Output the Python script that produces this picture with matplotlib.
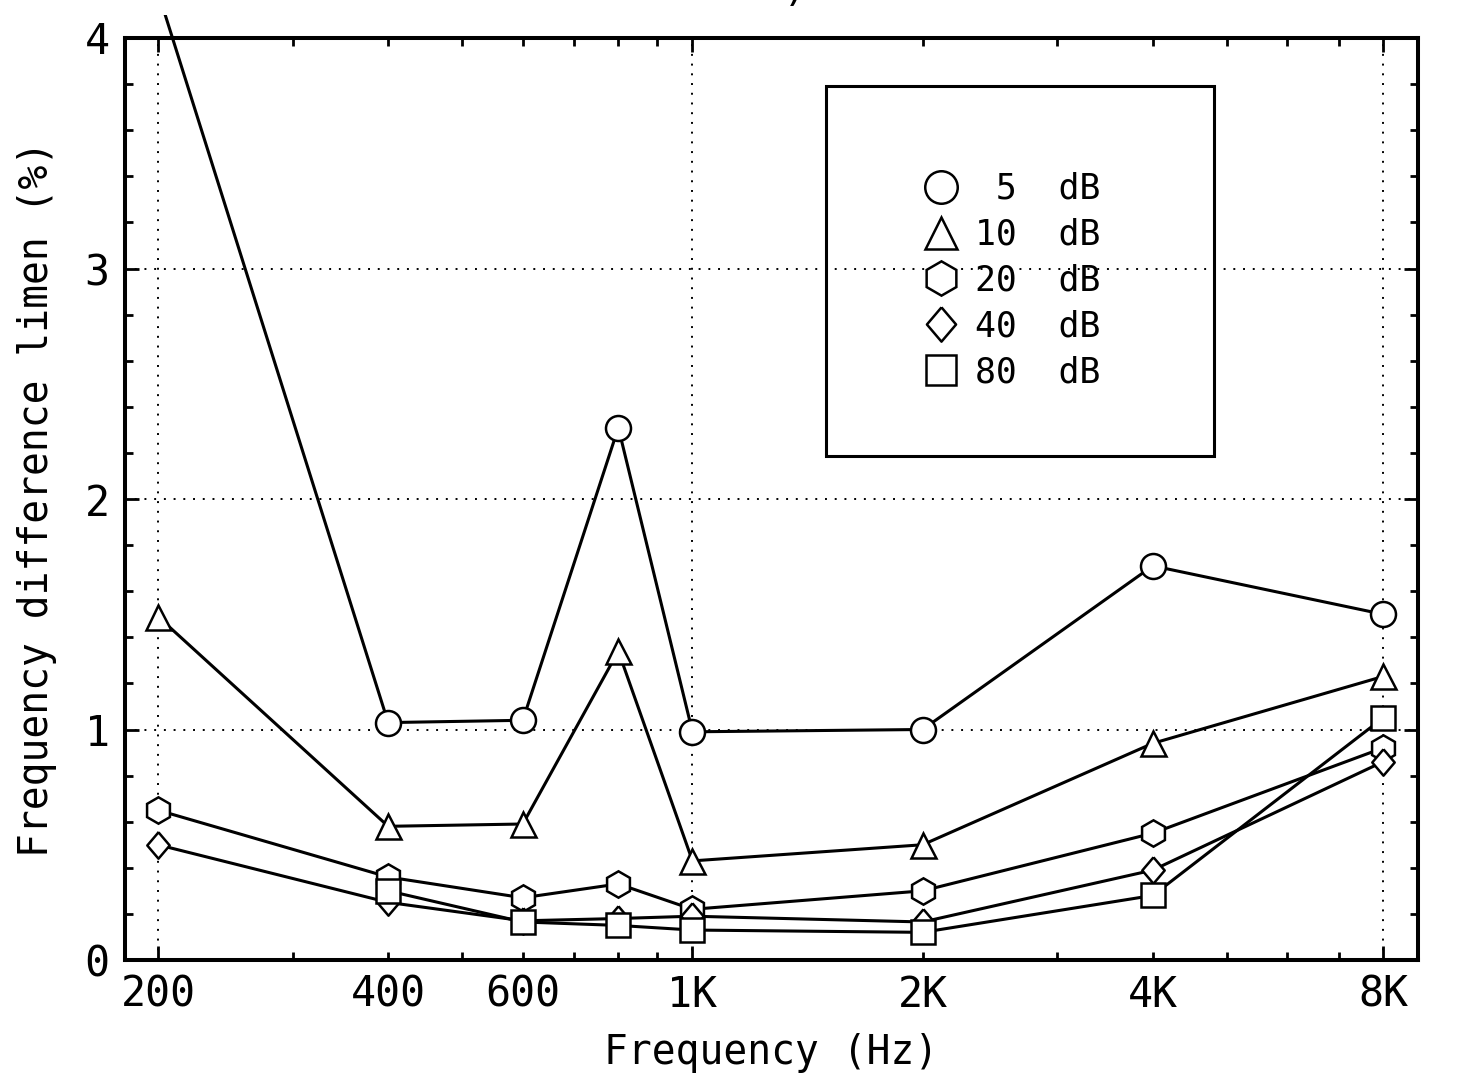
import numpy as np
import matplotlib
matplotlib.use('Agg')
import matplotlib.pyplot as plt
from matplotlib.patches import Rectangle
from matplotlib.ticker import FixedLocator, FixedFormatter, MultipleLocator

# frequency difference limen (%) vs frequency, one series per level
freqs = [200, 400, 600, 800, 1000, 2000, 4000, 8000]
dl_5db = [4.2, 1.03, 1.04, 2.31, 0.99, 1.00, 1.71, 1.50]
dl_10db = [1.49, 0.58, 0.59, 1.34, 0.43, 0.50, 0.94, 1.23]
dl_20db = [0.65, 0.36, 0.27, 0.33, 0.22, 0.30, 0.55, 0.92]
dl_40db = [0.50, 0.25, 0.17, 0.18, 0.19, 0.165, 0.39, 0.86]
dl_80db = [np.nan, 0.30, 0.165, 0.15, 0.13, 0.12, 0.28, 1.05]

level_labels = ['\u00a05  dB', '10  dB', '20  dB', '40  dB', '80  dB']

major_x = [200, 1000, 8000]
major_x_labels = ['200', '1K', '8K']
minor_x = [300, 400, 500, 600, 700, 800, 900, 2000, 3000, 4000, 5000, 6000, 7000]
minor_x_labels = ['', '400', '', '600', '', '', '', '2K', '', '4K', '', '', '']

plt.rcParams['font.family'] = 'DejaVu Sans Mono'

fig = plt.figure(figsize=(14.58, 10.84), dpi=100)
ax = fig.add_axes([125/1458, 124/1084, 1293/1458, 922/1084])

# diamond a little taller than wide
diamond = [(0, 1), (0.85, 0), (0, -1), (-0.85, 0), (0, 1)]
series = [dl_5db, dl_10db, dl_20db, dl_40db, dl_80db]
markers = ['o', '^', 'h', diamond, 's']
msizes = [18, 18, 19, 19, 17]

# the 5 dB line runs a bit past the top of the frame
clip = Rectangle((0, 0), 1, 1.025, transform=ax.transAxes, visible=False)
ax.add_patch(clip)

handles = []
for i in range(len(series)):
    ln, = ax.plot(freqs, series[i], color='k', lw=2.2, zorder=2)
    mk, = ax.plot(freqs, series[i], linestyle='none', marker=markers[i],
                  ms=msizes[i], mfc='white', mec='k', mew=1.8, zorder=3)
    ln.set_clip_path(clip)
    mk.set_clip_path(clip)
    handles.append(mk)

ax.set_xscale('log')
ax.set_xlim(181.1, 8889)
ax.set_ylim(0, 4)

ax.xaxis.set_major_locator(FixedLocator(major_x))
ax.xaxis.set_major_formatter(FixedFormatter(major_x_labels))
ax.xaxis.set_minor_locator(FixedLocator(minor_x))
ax.xaxis.set_minor_formatter(FixedFormatter(minor_x_labels))
ax.yaxis.set_major_locator(FixedLocator([0, 1, 2, 3, 4]))
ax.yaxis.set_minor_locator(MultipleLocator(0.2))

ax.tick_params(which='both', direction='in', top=True, right=True,
               width=2, labelsize=30)
ax.tick_params(which='major', length=10)
ax.tick_params(which='minor', length=6)
ax.tick_params(axis='x', which='both', pad=10)
ax.tick_params(axis='y', which='both', pad=11)

for sp in ax.spines.values():
    sp.set_linewidth(2.9)

ax.grid(True, which='major', color='k', linestyle=(0, (1, 4)), lw=1.4)

ax.set_xlabel('Frequency (Hz)', fontsize=28.5, labelpad=12)
ax.set_ylabel('Frequency difference limen (%)', fontsize=28.5, labelpad=20)

# legend with its own square frame
ax.add_patch(Rectangle((0.542, 0.547), 0.300, 0.401, transform=ax.transAxes,
                       fill=False, ec='k', lw=2.2, zorder=4))
ax.legend(handles, level_labels, loc='center', bbox_to_anchor=(0.686, 0.737),
          frameon=False, prop={'size': 25}, markerscale=1.3,
          handlelength=1.0, handletextpad=0.5, labelspacing=0.34)

# remnant of the cut-off title
fig.text(795/1458, 1 - 10/1084, ')', fontsize=30, ha='center', va='bottom')

fig.savefig('out.png', dpi=100)
